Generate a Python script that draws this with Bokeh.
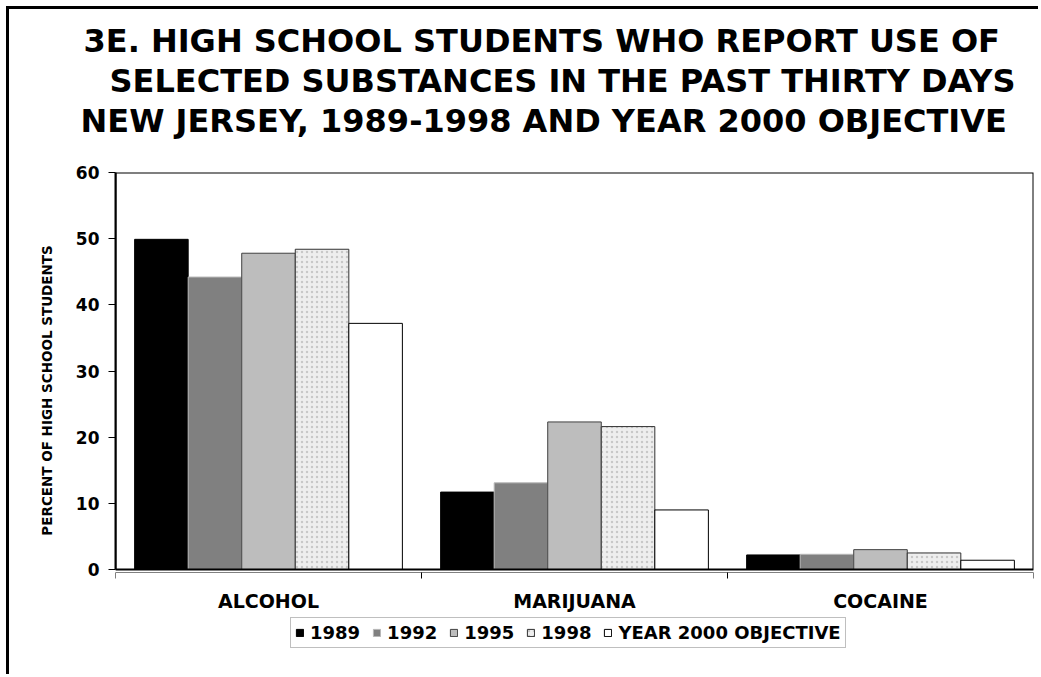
from bokeh.plotting import figure
from bokeh.models import Range1d, FixedTicker, Title, Legend, LegendItem, BoxAnnotation
from bokeh.core.properties import value
from bokeh.embed import file_html
from bokeh.resources import INLINE

# ---------------- data ----------------
title_lines = [
    "3E. HIGH SCHOOL STUDENTS WHO REPORT USE OF",
    "SELECTED SUBSTANCES IN THE PAST THIRTY DAYS",
    "NEW JERSEY, 1989-1998 AND YEAR 2000 OBJECTIVE",
]
substances = ["ALCOHOL", "MARIJUANA", "COCAINE"]
series_names = ["1989", "1992", "1995", "1998", "YEAR 2000 OBJECTIVE"]
v1989 = [49.9, 11.7, 2.2]
v1992 = [44.2, 13.1, 2.3]
v1995 = [47.8, 22.3, 3.0]
v1998 = [48.4, 21.6, 2.5]
v2000 = [37.2, 9.0, 1.4]
y_ticks = [0, 10, 20, 30, 40, 50, 60]
y_label = "PERCENT OF HIGH SCHOOL STUDENTS"

FONT = "DejaVu Sans"

# layout constants (pixels)
PLOT_H_PX = 397          # height of the 0..60 box
BELOW_PX = 100           # frame space kept below zero for labels + legend
Y_MAX = y_ticks[-1]
PX = Y_MAX / PLOT_H_PX   # data units per pixel
y_bottom = -BELOW_PX * PX

p = figure(width=1032, height=668, output_backend="svg", toolbar_location=None,
           x_range=Range1d(0, len(substances)), y_range=Range1d(y_bottom, Y_MAX),
           x_axis_location=None,
           min_border_left=106, min_border_right=8,
           min_border_top=163, min_border_bottom=8)
p.styles = {"margin-left": "9px", "margin-top": "9px",
            "box-shadow": "-3px -3px 0px 0px black"}
p.background_fill_color = "white"
p.border_fill_color = "white"
p.outline_line_color = None
p.grid.visible = False

# spacer between frame and title block
p.add_layout(Title(text=" ", text_font_size="10px", standoff=20), "above")
# title lines (innermost first)
title_offsets = [-32, -6, -35]
for txt, off in reversed(list(zip(title_lines, title_offsets))):
    p.add_layout(Title(text=txt, align="left", offset=off, standoff=0,
                       text_font=FONT, text_font_style="bold",
                       text_font_size="32px", text_color="black"), "above")

BW = 0.175
styles = [
    dict(fill_color="#000000", line_color="#000000"),
    dict(fill_color="#808080", line_color="#b8b8b8"),
    dict(fill_color="#bdbdbd", line_color="#404040"),
    dict(fill_color="#eeeeee", line_color="#303030", hatch_pattern="dot",
         hatch_color="#c8c8c8", hatch_scale=5, hatch_weight=1.5),
    dict(fill_color="#ffffff", line_color="#000000"),
]
all_vals = [v1989, v1992, v1995, v1998, v2000]
renderers = []
for j, (vals, st) in enumerate(zip(all_vals, styles)):
    xs = [i + 0.5 + (j - 2) * BW for i in range(len(substances))]
    r = p.vbar(x=xs, top=vals, bottom=0, width=BW, line_width=1, **st)
    renderers.append(r)

# plot box (0..60 area)
p.add_layout(BoxAnnotation(left=0, right=len(substances), bottom=0, top=Y_MAX,
                           fill_color=None, fill_alpha=0,
                           line_color="black", line_alpha=1, line_width=2))

# category axis drawn inside the frame
bounds = list(range(len(substances) + 1))
p.segment(x0=[0], y0=[-3 * PX], x1=[len(substances)], y1=[-3 * PX],
          line_color="#808080", line_width=1)
p.segment(x0=bounds, y0=[-3 * PX] * len(bounds), x1=bounds, y1=[-9 * PX] * len(bounds),
          line_color="black", line_width=1)
p.text(x=[i + 0.5 for i in range(len(substances))], y=[-31 * PX] * len(substances),
       text=substances, text_align="center", text_baseline="middle",
       text_font=value(FONT), text_font_style="bold", text_font_size="19px",
       text_color="black")

# y axis
ya = p.yaxis[0]
ya.bounds = (0, Y_MAX)
ya.ticker = FixedTicker(ticks=y_ticks)
ya.minor_tick_line_color = None
ya.major_tick_out = 7
ya.major_tick_in = 0
ya.major_tick_line_color = "black"
ya.major_tick_line_width = 1
ya.axis_line_color = "black"
ya.axis_line_width = 2
ya.major_label_standoff = 9
ya.major_label_text_font = FONT
ya.major_label_text_font_style = "bold"
ya.major_label_text_font_size = "17px"
ya.major_label_text_color = "black"
# leading no-break spaces lift the centred label to sit beside the 0..60 box
ya.axis_label = "\u00a0" * 13 + y_label
ya.axis_label_text_font = FONT
ya.axis_label_text_font_style = "bold"
ya.axis_label_text_font_size = "13.5px"
ya.axis_label_text_color = "black"
ya.axis_label_standoff = 18

# legend (inside the frame, under the category labels)
legend = Legend(items=[LegendItem(label=n, renderers=[r]) for n, r in zip(series_names, renderers)],
                orientation="horizontal", location=(175, 21),
                glyph_width=9, glyph_height=9, label_standoff=6, spacing=12,
                padding=4, margin=0, label_height=20,
                label_text_font=FONT, label_text_font_style="bold",
                label_text_font_size="18px", label_text_color="black",
                border_line_color="#808080", border_line_width=1,
                background_fill_color="white", background_fill_alpha=1)
p.add_layout(legend)

open("out.html", "w").write(file_html(p, INLINE))
